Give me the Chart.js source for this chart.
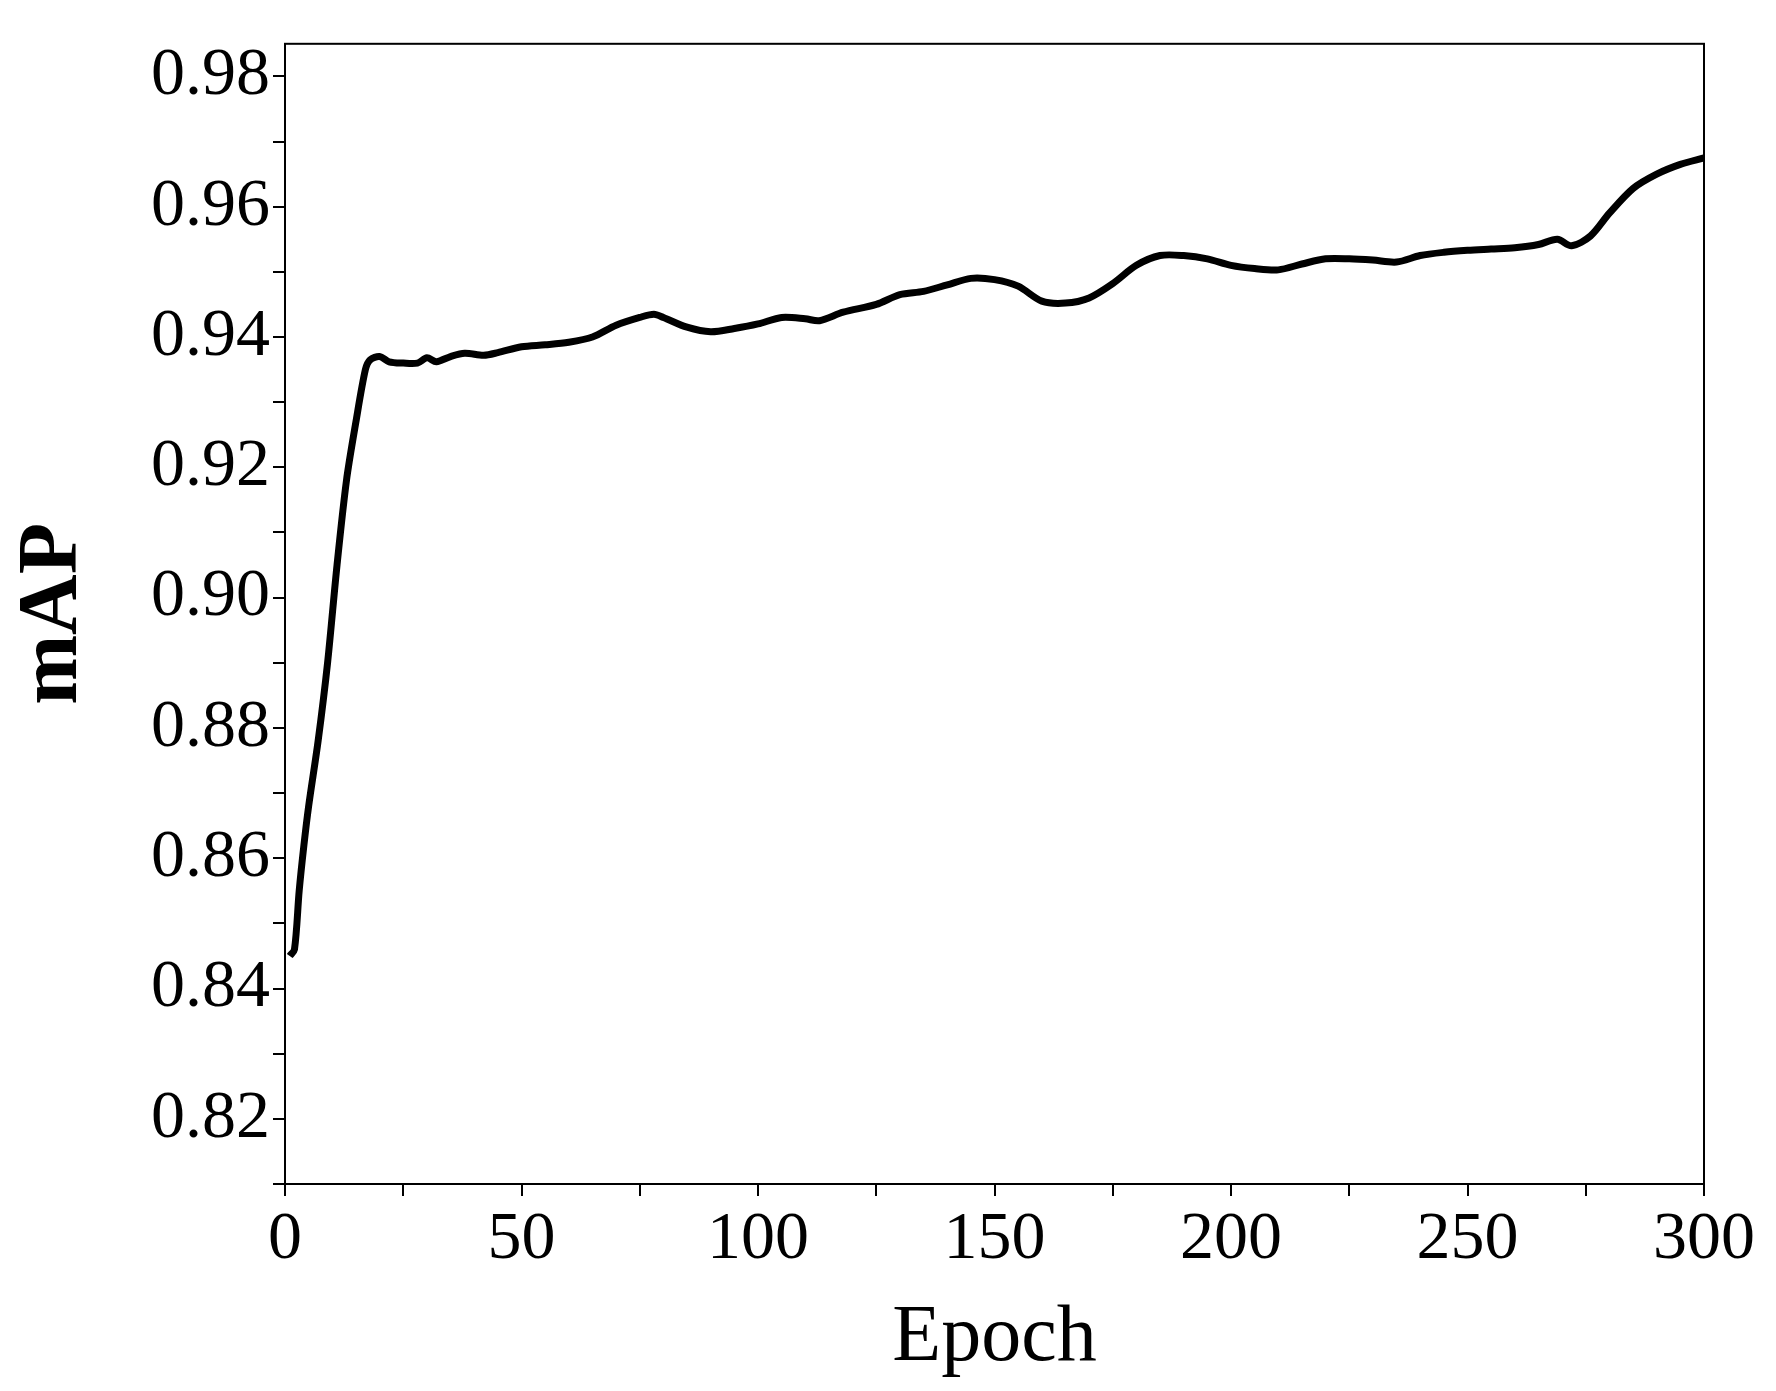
<!DOCTYPE html>
<html>
<head>
<meta charset="utf-8">
<script src="https://cdn.jsdelivr.net/npm/chart.js@4/dist/chart.umd.min.js"></script>
<style>
  html, body { margin: 0; padding: 0; background: #fff; }
  #wrap { width: 1776px; height: 1391px; }
</style>
</head>
<body>
<div id="wrap"><canvas id="mapChart" width="1776" height="1391"></canvas></div>
<script>
// values
const epochs = [1, 2, 3, 4, 5, 7, 9, 11, 13, 15, 17, 18, 20, 22, 25, 28, 30, 32, 35, 38, 42, 45, 50, 55, 60, 65, 70, 75, 78, 80, 85, 90, 95, 100, 105, 110, 113, 118, 125, 130, 135, 140, 145, 150, 155, 160, 165, 170, 175, 180, 185, 190, 195, 200, 205, 210, 215, 220, 225, 230, 235, 240, 245, 250, 255, 260, 265, 269, 272, 276, 280, 285, 290, 295, 300];
const mapValues = [0.845, 0.846, 0.855, 0.862, 0.868, 0.878, 0.890, 0.905, 0.918, 0.927, 0.935, 0.9365, 0.937, 0.9362, 0.936, 0.936, 0.9368, 0.9362, 0.937, 0.9375, 0.9372, 0.9376, 0.9385, 0.9388, 0.9392, 0.940, 0.9418, 0.943, 0.9435, 0.943, 0.9415, 0.9408, 0.9413, 0.942, 0.943, 0.9428, 0.9425, 0.9438, 0.945, 0.9465, 0.947, 0.948, 0.949, 0.9488, 0.9478, 0.9455, 0.9452, 0.946, 0.9482, 0.951, 0.9525, 0.9525, 0.952, 0.951, 0.9505, 0.9503, 0.9512, 0.952, 0.952, 0.9518, 0.9515, 0.9525, 0.953, 0.9533, 0.9535, 0.9537, 0.9542, 0.955, 0.954, 0.9555, 0.959, 0.9628, 0.965, 0.9665, 0.9675];
const xTicks = [0, 25, 50, 75, 100, 125, 150, 175, 200, 225, 250, 275, 300];
const yTicks = [0.81, 0.82, 0.83, 0.84, 0.85, 0.86, 0.87, 0.88, 0.89, 0.90, 0.91, 0.92, 0.93, 0.94, 0.95, 0.96, 0.97, 0.98];

const fontFamily = '"Liberation Serif", "Times New Roman", serif';

// frame around the plot area (top/right sides)
const framePlugin = {
    id: 'frame',
    afterDraw(chart) {
        const { ctx, chartArea: a } = chart;
        ctx.save();
        ctx.strokeStyle = '#000';
        ctx.lineWidth = 2;
        ctx.strokeRect(a.left, a.top, a.right - a.left, a.bottom - a.top);
        ctx.restore();
    }
};

const ctx = document.getElementById('mapChart').getContext('2d');
new Chart(ctx, {
    type: 'line',
    data: {
        datasets: [{
            data: epochs.map((e, i) => ({ x: e, y: mapValues[i] })),
            borderColor: '#000',
            borderWidth: 7,
            pointRadius: 0,
            tension: 0.3,
            fill: false
        }]
    },
    options: {
        responsive: false,
        animation: false,
        layout: { padding: { top: 40, right: 72, left: 0, bottom: 0 } },
        plugins: { legend: { display: false }, tooltip: { enabled: false } },
        scales: {
            x: {
                type: 'linear',
                min: 0, max: 300,
                afterBuildTicks: s => { s.ticks = xTicks.map(v => ({ value: v })); },
                afterFit: s => { s.height = 207; },
                grid: { drawOnChartArea: false, tickLength: 12, color: '#000', lineWidth: 2 },
                border: { color: '#000', width: 2 },
                ticks: {
                    color: '#000',
                    maxRotation: 0,
                    autoSkip: false,
                    font: { family: fontFamily, size: 68 },
                    callback: v => (v % 50 === 0 ? v : '')
                },
                title: {
                    display: true, text: 'Epoch', color: '#000',
                    font: { family: fontFamily, size: 80 },
                    padding: { top: -28 }
                }
            },
            y: {
                min: 0.81, max: 0.985,
                afterBuildTicks: s => { s.ticks = yTicks.map(v => ({ value: v })); },
                afterFit: s => { s.width = 285; },
                grid: { drawOnChartArea: false, tickLength: 12, color: '#000', lineWidth: 2 },
                border: { color: '#000', width: 2 },
                ticks: {
                    color: '#000',
                    autoSkip: false,
                    font: { family: fontFamily, size: 68 },
                    callback: v => (Math.round(v * 100) % 2 === 0 ? v.toFixed(2) : '')
                },
                title: {
                    display: true, text: 'mAP', color: '#000',
                    font: { family: fontFamily, size: 84, weight: 'bold' },
                    padding: { bottom: 0 }
                }
            }
        }
    },
    plugins: [framePlugin]
});
</script>
</body>
</html>
